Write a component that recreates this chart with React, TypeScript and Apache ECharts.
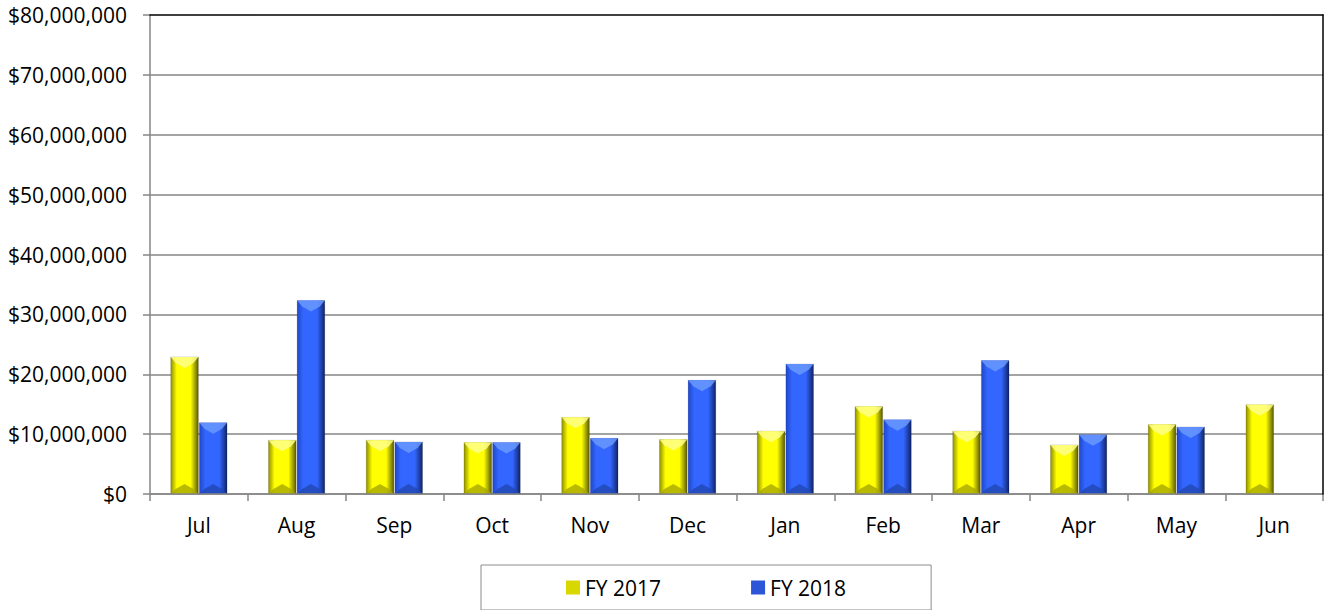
import React, { useEffect, useRef } from "react";
import * as echarts from "echarts";

const months = ["Jul", "Aug", "Sep", "Oct", "Nov", "Dec", "Jan", "Feb", "Mar", "Apr", "May", "Jun"];
const fy2017 = [22900000, 8970000, 8970000, 8600000, 12800000, 9100000, 10500000, 14600000, 10500000, 8200000, 11600000, 14900000];
const fy2018 = [11900000, 32300000, 8700000, 8600000, 9300000, 19000000, 21700000, 12400000, 22300000, 9900000, 11200000, null];
const seriesNames = ["FY 2017", "FY 2018"];

const FONT = "Open Sans";

const palettes = [
  { main: "#ffff00", dark: "#8f8f00", right: "#5a5a00", top: "#ffff8a", bottom: "#a8a800", legend: "#d8d800" },
  { main: "#3366ff", dark: "#1f48c8", right: "#0f2466", top: "#6a98ff", bottom: "#2147b3", legend: "#2d55d8" },
];

function makeRender(sIdx: number) {
  const p = palettes[sIdx];
  return (params: any, api: any) => {
    const idx = api.value(0);
    const val = api.value(1);
    if (val == null || isNaN(val)) return null;
    const base = api.coord([idx, 0]);
    const top = api.coord([idx, val]);
    const catW = api.size([1, 0])[0];
    const bw = catW * 0.283;
    const cx = base[0];
    const x0 = sIdx === 0 ? cx - bw - 0.5 : cx + 0.5;
    const x1 = x0 + bw;
    const xc = (x0 + x1) / 2;
    const yT = top[1];
    const yB = base[1];
    return {
      type: "group",
      children: [
        {
          type: "rect",
          shape: { x: x0, y: yT, width: bw, height: yB - yT },
          style: {
            fill: new echarts.graphic.LinearGradient(0, 0, 1, 0, [
              { offset: 0, color: p.dark },
              { offset: 0.22, color: p.main },
              { offset: 0.72, color: p.main },
              { offset: 1, color: p.right },
            ]),
            stroke: "rgba(0,0,0,0.25)",
            lineWidth: 0.5,
          },
        },
        {
          type: "polygon",
          shape: {
            points: [
              [x0, yT],
              [x1, yT],
              [x1 - 5, yT + 6],
              [xc, yT + 11],
              [x0 + 5, yT + 6],
            ],
          },
          style: { fill: p.top, opacity: 0.85 },
        },
        {
          type: "polygon",
          shape: {
            points: [
              [x0, yB],
              [x1, yB],
              [x1 - 5, yB - 5],
              [xc, yB - 10],
              [x0 + 5, yB - 5],
            ],
          },
          style: { fill: p.bottom, opacity: 0.8 },
        },
      ],
    };
  };
}

export default function App() {
  const ref = useRef<HTMLDivElement>(null);
  useEffect(() => {
    document.body.style.margin = "0";
    const chart = echarts.init(ref.current!, null, { renderer: "svg" });
    const datasets = [fy2017, fy2018];
    chart.setOption({
      animation: false,
      backgroundColor: "#ffffff",
      textStyle: { fontFamily: FONT },
      grid: { left: 150, right: 2, top: 15, bottom: 116, containLabel: false },
      legend: {
        data: seriesNames.map((n, i) => ({ name: n, icon: "rect", itemStyle: { color: palettes[i].legend } })),
        left: 481,
        top: 565,
        padding: [12, 85, 12, 85],
        itemGap: 90,
        itemWidth: 14,
        itemHeight: 14,
        borderColor: "#8c8c8c",
        borderWidth: 1,
        textStyle: { fontFamily: FONT, fontSize: 21, color: "#000" },
      },
      xAxis: [
        {
          type: "category",
          data: months,
          boundaryGap: true,
          z: 3,
          axisLine: { onZero: false, lineStyle: { color: "#868686", width: 1.5 } },
          axisTick: { show: true, length: 7, alignWithLabel: false, lineStyle: { color: "#868686", width: 1.5 } },
          axisLabel: { color: "#000", fontSize: 21, fontFamily: FONT, margin: 20 },
          splitLine: { show: false },
        },
        {
          type: "category",
          data: months,
          position: "top",
          z: 5,
          axisLine: { show: true, onZero: false, lineStyle: { color: "#000", width: 1.5 } },
          axisTick: { show: false },
          axisLabel: { show: false },
        },
      ],
      yAxis: [
        {
          type: "value",
          min: 0,
          max: 80000000,
          interval: 10000000,
          axisLine: { show: true, lineStyle: { color: "#868686", width: 1.5 } },
          axisTick: { show: true, length: 7, lineStyle: { color: "#868686", width: 1.5 } },
          splitLine: { show: true, showMaxLine: false, lineStyle: { color: "#868686", width: 1.5 } },
          axisLabel: {
            color: "#000",
            fontSize: 21,
            fontFamily: FONT,
            margin: 23,
            formatter: (v: number) => "$" + v.toLocaleString("en-US"),
          },
        },
        {
          type: "value",
          min: 0,
          max: 80000000,
          position: "right",
          z: 5,
          axisLine: { show: true, onZero: false, lineStyle: { color: "#000", width: 1.5 } },
          axisTick: { show: false },
          axisLabel: { show: false },
          splitLine: { show: false },
        },
      ],
      series: seriesNames.map((name, sIdx) => ({
        name,
        type: "custom",
        xAxisIndex: 0,
        yAxisIndex: 0,
        itemStyle: { color: palettes[sIdx].legend },
        encode: { x: 0, y: 1 },
        renderItem: makeRender(sIdx),
        data: datasets[sIdx].map((v, i) => [i, v]).filter((d) => d[1] != null),
      })),
    });
    return () => chart.dispose();
  }, []);
  return <div ref={ref} style={{ width: 1325, height: 610 }} />;
}
